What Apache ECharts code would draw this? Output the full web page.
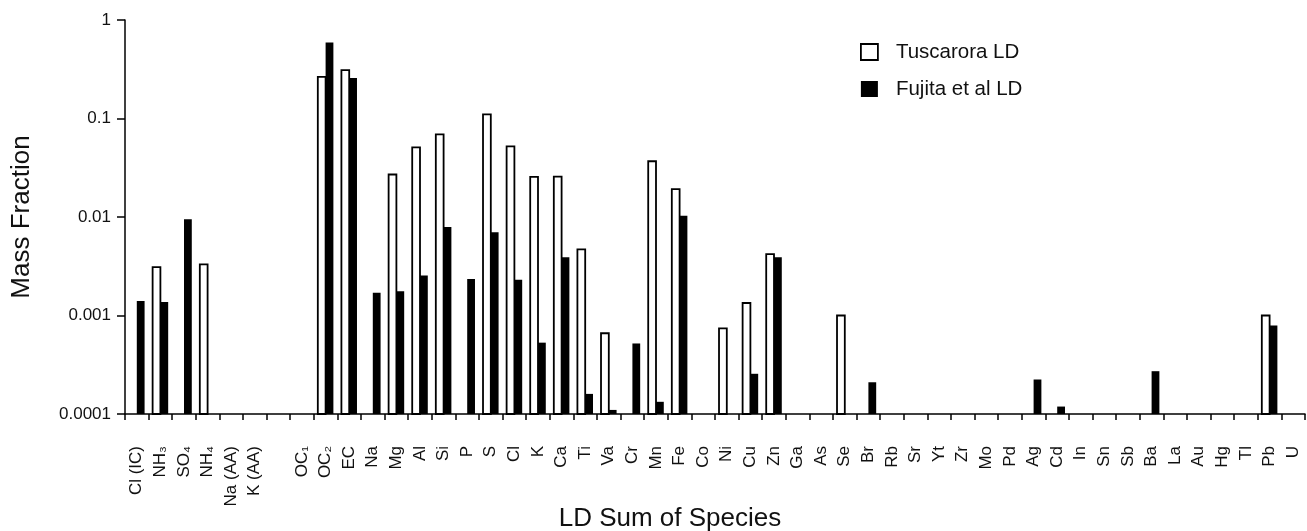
<!DOCTYPE html>
<html>
<head>
<meta charset="utf-8">
<title>LD Sum of Species</title>
<script src="https://cdn.jsdelivr.net/npm/echarts@6/dist/echarts.min.js"></script>
<style>
  html, body { margin: 0; padding: 0; background: #ffffff; }
  #chart { width: 1307px; height: 531px; }
</style>
</head>
<body>
<div id="chart"></div>
<script>
// Species along the x axis (an empty slot separates the ion group from the carbon/element group)
const categories = [
  'Cl (IC)', 'NH\u2083', 'SO\u2084', 'NH\u2084', 'Na (AA)', 'K (AA)', '',
  'OC\u2081', 'OC\u2082', 'EC', 'Na', 'Mg', 'Al', 'Si', 'P', 'S', 'Cl', 'K', 'Ca', 'Ti', 'Va',
  'Cr', 'Mn', 'Fe', 'Co', 'Ni', 'Cu', 'Zn', 'Ga', 'As', 'Se', 'Br', 'Rb', 'Sr', 'Yt', 'Zr',
  'Mo', 'Pd', 'Ag', 'Cd', 'In', 'Sn', 'Sb', 'Ba', 'La', 'Au', 'Hg', 'Tl', 'Pb', 'U'
];

// Mass fractions (null = not reported)
const tuscaroraLD = [
  null, 0.0031, null, 0.0033, null, null, null,
  null, 0.265, 0.31, null, 0.027, 0.051, 0.069, null, 0.11, 0.052, 0.0255, 0.0257, 0.0047, 0.00066,
  null, 0.0368, 0.0192, null, 0.00074, 0.00134, 0.0042, null, null, 0.001, null, null, null, null, null,
  null, null, null, null, null, null, null, null, null, null, null, null, 0.001, null
];

const fujitaLD = [
  0.0014, 0.00137, 0.0095, null, null, null, null,
  null, 0.59, 0.257, 0.0017, 0.00176, 0.00255, 0.0079, 0.00235, 0.007, 0.0023, 0.00053, 0.0039, 0.00016, 0.00011,
  0.00052, 0.000133, 0.0103, null, null, 0.000256, 0.0039, null, null, null, 0.00021, null, null, null, null,
  null, null, 0.000224, 0.000119, null, null, null, 0.000272, null, null, null, null, 0.00079, null
];

// Decade labels of the logarithmic y axis
const yTickLabels = ['0.0001', '0.001', '0.01', '0.1', '1'];

const Y_MIN = 0.0001;
const Y_MAX = 1;
const FONT = '"Liberation Sans", Arial, Helvetica, sans-serif';

const TUSC_STYLE = { color: '#ffffff', borderColor: '#000000', borderWidth: 1.8 };
const FUJI_STYLE = { color: '#000000', borderColor: '#000000', borderWidth: 0 };

// Bars rise from the bottom of the log axis; each category holds a
// white (left) and a black (right) bar side by side.
function barRenderer(side, style) {
  return function (params, api) {
    const v = api.value(1);
    if (v == null || isNaN(v) || v <= 0) return null;
    const idx = api.value(0);
    const top = api.coord([idx, v]);
    const base = api.coord([idx, Y_MIN]);
    const band = api.size([1, 0])[0];
    const w = band * 0.33;
    const x = side < 0 ? top[0] - w : top[0];
    return {
      type: 'rect',
      shape: { x: x, y: top[1], width: w, height: base[1] - top[1] },
      style: {
        fill: style.color,
        stroke: style.borderWidth ? style.borderColor : null,
        lineWidth: style.borderWidth
      }
    };
  };
}

const chart = echarts.init(document.getElementById('chart'), null, { renderer: 'canvas' });

chart.setOption({
  backgroundColor: '#ffffff',
  animation: false,
  textStyle: { fontFamily: FONT, color: '#111' },
  legend: {
    orient: 'vertical',
    left: 860,
    top: 41,
    padding: 0,
    itemWidth: 17,
    itemHeight: 16,
    itemGap: 15,
    icon: 'rect',
    textStyle: { fontFamily: FONT, fontSize: 20.5, color: '#111', padding: [0, 0, 0, 13], lineHeight: 22 },
    data: [
      { name: 'Tuscarora LD', itemStyle: TUSC_STYLE },
      { name: 'Fujita et al LD', itemStyle: FUJI_STYLE }
    ]
  },
  grid: { left: 125, right: 2, top: 20, bottom: 117, containLabel: false, outerBoundsMode: 'none' },
  xAxis: {
    type: 'category',
    data: categories,
    boundaryGap: true,
    name: 'LD Sum of Species',
    nameLocation: 'middle',
    nameGap: 92,
    nameMoveOverlap: false,
    nameTextStyle: { fontFamily: FONT, fontSize: 26, color: '#111', padding: [0, 90, 0, 0] },
    axisLine: { lineStyle: { color: '#000', width: 1.5 } },
    axisTick: { show: true, interval: 0, length: 6, lineStyle: { color: '#000', width: 1.5 } },
    axisLabel: {
      interval: 0,
      rotate: 90,
      margin: 32,
      fontFamily: FONT,
      fontSize: 17,
      color: '#111'
    },
    splitLine: { show: false }
  },
  yAxis: {
    type: 'log',
    logBase: 10,
    min: Y_MIN,
    max: Y_MAX,
    name: 'Mass Fraction',
    nameLocation: 'middle',
    nameGap: 90,
    nameMoveOverlap: false,
    nameRotate: 90,
    nameTextStyle: { fontFamily: FONT, fontSize: 26, color: '#111' },
    axisLine: { show: true, lineStyle: { color: '#000', width: 1.5 } },
    axisTick: { show: true, inside: false, length: 8, lineStyle: { color: '#000', width: 1.5 } },
    minorTick: { show: false },
    splitLine: { show: false },
    axisLabel: {
      margin: 14,
      fontFamily: FONT,
      fontSize: 17,
      color: '#111',
      formatter: function (v) {
        const i = Math.round(Math.log10(v)) + 4;
        return yTickLabels[i] !== undefined ? yTickLabels[i] : '';
      }
    }
  },
  series: [
    {
      name: 'Tuscarora LD',
      type: 'custom',
      renderItem: barRenderer(-1, TUSC_STYLE),
      itemStyle: TUSC_STYLE,
      encode: { x: 0, y: 1 },
      data: tuscaroraLD.map(function (v, i) { return [i, v == null ? '-' : v]; })
    },
    {
      name: 'Fujita et al LD',
      type: 'custom',
      renderItem: barRenderer(1, FUJI_STYLE),
      itemStyle: FUJI_STYLE,
      encode: { x: 0, y: 1 },
      data: fujitaLD.map(function (v, i) { return [i, v == null ? '-' : v]; })
    }
  ]
});
</script>
</body>
</html>
